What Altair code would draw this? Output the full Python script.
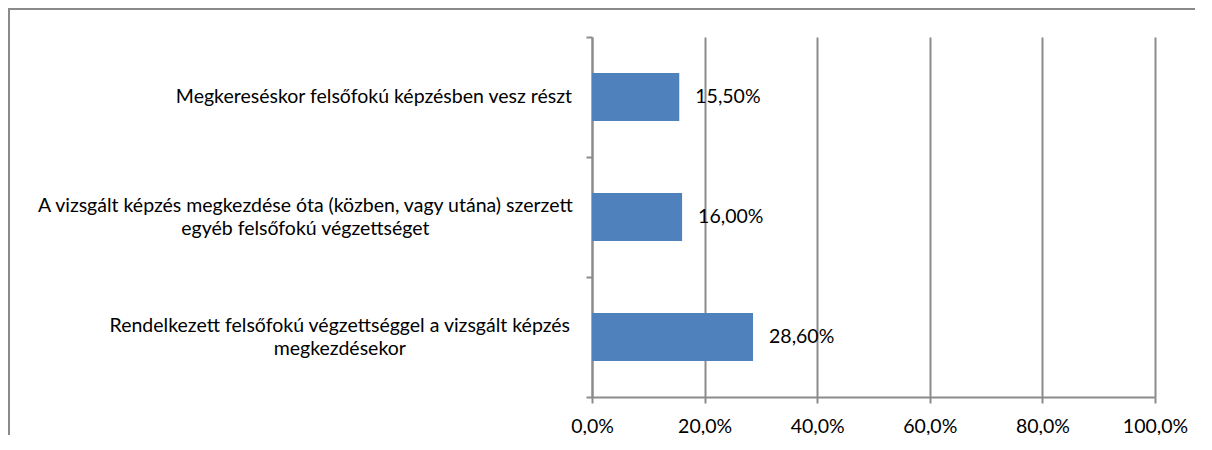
import altair as alt
import pandas as pd

categories = [
    "Megkereséskor felsőfokú képzésben vesz részt",
    "A vizsgált képzés megkezdése óta (közben, vagy utána) szerzett|egyéb felsőfokú végzettséget",
    "Rendelkezett felsőfokú végzettséggel a vizsgált képzés|megkezdésekor",
]
values = [0.155, 0.160, 0.286]
x_ticks = [0.0, 0.2, 0.4, 0.6, 0.8, 1.0]

df = pd.DataFrame({"cat": categories, "v": values})

FONT = "Lato"
FS = 19.5
LH = 23
GRAY = "#8C8C8C"
LABEL_RIGHT = -20      # right edge of category labels, px left of the axis
CHAR_W = 8.6           # approximate Lato glyph advance at FS

base = alt.Chart(df).encode(
    y=alt.Y(
        "cat:N",
        sort=None,
        title=None,
        scale=alt.Scale(paddingInner=0, paddingOuter=0),
        axis=alt.Axis(
            tickBand="extent",
            domainColor=GRAY,
            domainWidth=2,
            tickColor=GRAY,
            tickWidth=2,
            tickSize=6,
            grid=False,
            labels=False,
        ),
    )
)

bars = base.mark_bar(color="#4F81BD", height={"band": 0.4}).encode(
    x=alt.X(
        "v:Q",
        title=None,
        scale=alt.Scale(domain=[0, 1]),
        axis=alt.Axis(
            values=x_ticks,
            labelExpr="replace(format(datum.value, '.1%'), '.', ',')",
            labelFlush=False,
            labelOverlap=False,
            grid=True,
            gridColor=GRAY,
            gridWidth=2,
            domainColor=GRAY,
            domainWidth=2,
            tickColor=GRAY,
            tickWidth=2,
            tickSize=6,
            labelFont=FONT,
            labelFontSize=FS,
            labelColor="#000000",
            labelPadding=14,
        ),
    )
)

labels = base.mark_text(
    align="left", baseline="middle", dx=16, font=FONT, fontSize=FS, color="#000000"
).transform_calculate(
    lab="replace(format(datum.v, '.2%'), '.', ',')"
).encode(x="v:Q", text="lab:N")

cat_base = base.transform_calculate(
    lines="split(datum.cat, '|')",
    n="length(split(datum.cat, '|'))",
)
cat_one = cat_base.transform_filter("datum.n == 1").mark_text(
    align="right", baseline="middle", font=FONT, fontSize=FS, color="#000000",
    lineHeight=LH,
).encode(x=alt.value(LABEL_RIGHT), text="lines:N")
cat_two = cat_base.transform_filter("datum.n == 2").transform_calculate(
    cx=f"{LABEL_RIGHT} - length(datum.lines[0]) * {CHAR_W / 2}"
).mark_text(
    align="center", baseline="middle", font=FONT, fontSize=FS, color="#000000",
    lineHeight=LH, dy=-LH / 2,
).encode(x=alt.X("cx:Q", scale=None), text="lines:N")

frame = alt.Chart(pd.DataFrame({"a": [0]})).mark_rect(
    fill="transparent", stroke="#8A8A8A", strokeWidth=2
).encode(
    x=alt.value(-583), x2=alt.value(900), y=alt.value(-28), y2=alt.value(700)
)

chart = alt.layer(bars, labels, cat_one, cat_two, frame).properties(
    width=563,
    height=360,
    autosize=alt.AutoSizeParams(type="none"),
    padding={"left": 584, "top": 29, "right": 40, "bottom": 38},
).configure_view(stroke=None)

chart.save("out.html", embed_options={"renderer": "svg", "actions": False})
